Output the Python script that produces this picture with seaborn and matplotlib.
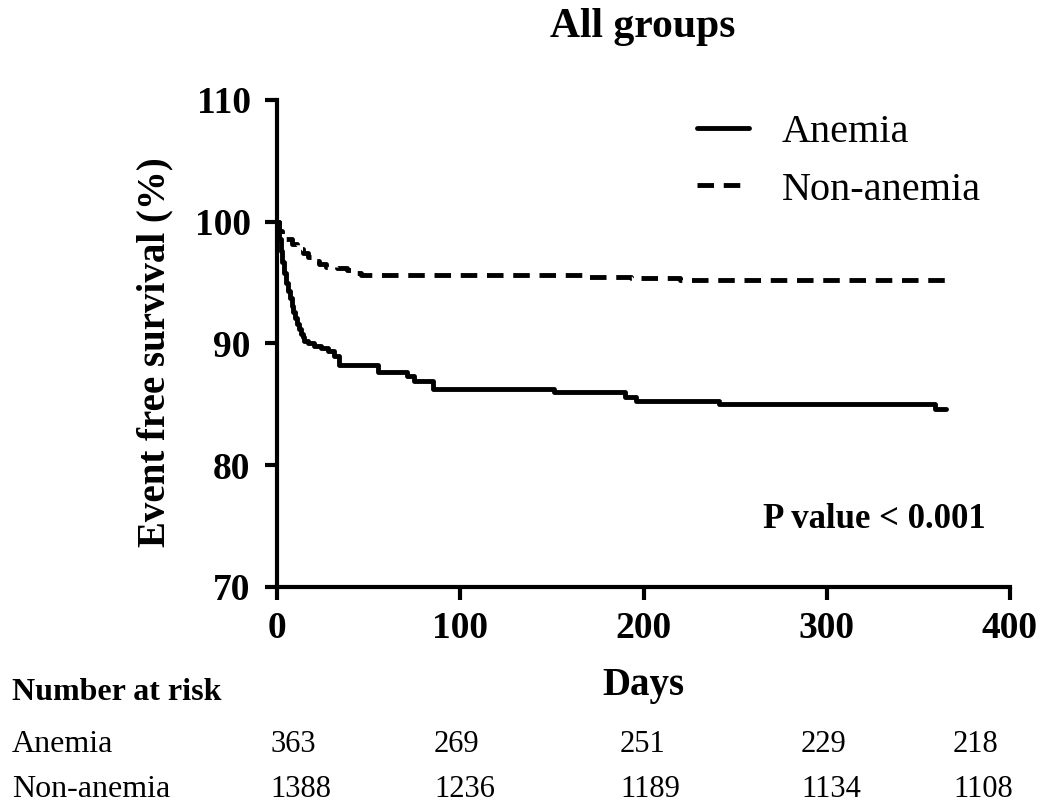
import numpy as np
import pandas as pd
import matplotlib
matplotlib.use("Agg")
import matplotlib.pyplot as plt
import seaborn as sns

# ---- data ----
groups = ["Anemia", "Non-anemia"]

anemia_days = [0, 1, 2, 3, 4, 5, 6, 7, 8, 9, 10, 11, 12, 13, 14, 15, 17, 20, 24, 28,
               31, 34, 55, 71, 75, 85, 151, 190, 196, 241, 359, 365]
anemia_surv = [100, 98.6, 97.6, 96.7, 95.8, 95.0, 94.3, 93.7, 93.1, 92.6, 92.1, 91.6,
               91.2, 90.8, 90.5, 90.2, 90.0, 89.8, 89.6, 89.4, 89.0, 88.2, 87.7, 87.3,
               86.9, 86.3, 86.0, 85.6, 85.3, 85.0, 84.6, 84.6]

nonanemia_days = [0, 1, 3, 5, 8, 11, 14, 17, 20, 23, 27, 33, 38, 42, 46, 167, 193, 220, 365]
nonanemia_surv = [100, 99.2, 98.9, 98.6, 98.2, 97.8, 97.4, 97.1, 96.8, 96.5, 96.3, 96.2,
                  96.0, 95.8, 95.6, 95.5, 95.4, 95.2, 95.2]

risk_anemia = [363, 269, 251, 229, 218]
risk_nonanemia = [1388, 1236, 1189, 1134, 1108]

x_ticks = [0, 100, 200, 300, 400]
y_ticks = [70, 80, 90, 100, 110]

df = pd.concat([
    pd.DataFrame({"Days": anemia_days, "Survival": anemia_surv, "Group": groups[0]}),
    pd.DataFrame({"Days": nonanemia_days, "Survival": nonanemia_surv, "Group": groups[1]}),
], ignore_index=True)

# ---- style ----
sns.set_theme(style="ticks")
plt.rcParams["font.family"] = ["Liberation Serif", "DejaVu Serif"]
plt.rcParams["text.color"] = "black"
plt.rcParams["axes.labelcolor"] = "black"
plt.rcParams["axes.linewidth"] = 3.0

W, H = 1055, 805
fig = plt.figure(figsize=(W / 100, H / 100), dpi=100)
ax = fig.add_axes([277 / W, 1 - 587 / H, 733 / W, 487 / H])

sns.lineplot(data=df, x="Days", y="Survival", style="Group", color="black",
             dashes={groups[0]: "", groups[1]: (3.4, 2.0)},
             estimator=None, drawstyle="steps-post", linewidth=3.5,
             legend=False, ax=ax)

ax.set_xlim(0, 400)
ax.set_ylim(70, 110)
ax.set_xticks(x_ticks)
ax.set_yticks(y_ticks)
sns.despine(ax=ax)
for s in ("left", "bottom"):
    ax.spines[s].set_linewidth(3.0)
    ax.spines[s].set_color("black")
ax.tick_params(axis="both", direction="out", length=9, width=3, color="black",
               labelsize=27, labelcolor="black")
ax.tick_params(axis="y", pad=10)
ax.tick_params(axis="x", pad=8)
for lab in ax.get_xticklabels() + ax.get_yticklabels():
    lab.set_fontweight("bold")

ax.set_xlabel("Days", fontsize=28, fontweight="bold", va="center", color="black")
ax.xaxis.set_label_coords(0.5, (587 - 685) / 487)
ax.set_ylabel("")
fig.text(155 / W, 1 - 352 / H, "Event free survival (%)", rotation=90,
         ha="center", va="center", fontsize=28, fontweight="bold")

fig.text(643 / W, 1 - 37 / H, "All groups", ha="center", va="baseline",
         fontsize=30, fontweight="bold")

fig.text(986 / W, 1 - 528 / H, "P value < 0.001", ha="right", va="baseline",
         fontsize=25, fontweight="bold")

leg = ax.legend(handles=ax.lines[:2], labels=groups, loc="upper left",
                bbox_to_anchor=(697 / W, 1 - 114 / H), bbox_transform=fig.transFigure,
                frameon=False, fontsize=29, handlelength=1.3, handletextpad=0.8,
                labelspacing=0.5, borderpad=0, borderaxespad=0)

# ---- number at risk table ----
col_x = [270, 434, 620, 801, 953]
fig.text(12 / W, 1 - 700 / H, "Number at risk", ha="left", va="baseline",
         fontsize=23, fontweight="bold")
fig.text(12 / W, 1 - 752 / H, groups[0], ha="left", va="baseline", fontsize=23)
fig.text(12 / W, 1 - 797 / H, groups[1], ha="left", va="baseline", fontsize=23)
for cx, a, n in zip(col_x, risk_anemia, risk_nonanemia):
    fig.text(cx / W, 1 - 752 / H, str(a), ha="left", va="baseline", fontsize=22)
    fig.text(cx / W, 1 - 797 / H, str(n), ha="left", va="baseline", fontsize=22)

fig.savefig("out.png", dpi=100, facecolor="white")
